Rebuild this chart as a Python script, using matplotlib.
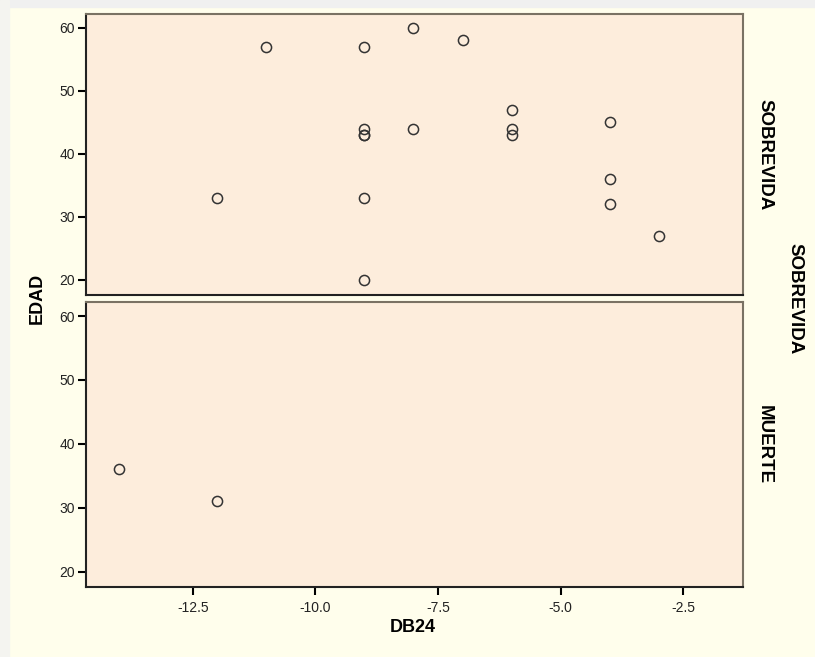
import matplotlib
matplotlib.use("Agg")
import matplotlib.pyplot as plt
from matplotlib.patches import Rectangle

plt.rcParams["font.family"] = ["Liberation Sans", "DejaVu Sans"]

# SOBREVIDA panel
sob_db24 = [-12, -11, -9, -9, -9, -9, -9, -9, -8, -8, -7, -6, -6, -6, -4, -4, -4, -3]
sob_edad = [33, 57, 57, 44, 43, 43, 33, 20, 60, 44, 58, 47, 44, 43, 45, 36, 32, 27]
# MUERTE panel
mue_db24 = [-14, -12]
mue_edad = [36, 31]

panel_labels = ["SOBREVIDA", "MUERTE"]
x_ticks = [-12.5, -10.0, -7.5, -5.0, -2.5]
y_ticks = [20, 30, 40, 50, 60]

bg = "#fffeec"
panel_bg = "#fdeddc"

fig = plt.figure(figsize=(8.15, 6.57), dpi=100, facecolor=bg)
# screenshot frame
fig.patches.append(Rectangle((0, 1 - 7 / 657), 1, 7 / 657, transform=fig.transFigure,
                             color="#f0f0f0", zorder=0))
fig.patches.append(Rectangle((0, 0), 9 / 815, 1, transform=fig.transFigure,
                             color="#f4f4f0", zorder=0))

ax_top = fig.add_axes([0.1055, 0.551, 0.8061, 0.4277])
ax_bot = fig.add_axes([0.1055, 0.1065, 0.8061, 0.4338])

for ax, xs, ys, lab in [(ax_top, sob_db24, sob_edad, panel_labels[0]),
                        (ax_bot, mue_db24, mue_edad, panel_labels[1])]:
    ax.set_facecolor(panel_bg)
    ax.plot(xs, ys, linestyle="none", marker="o", markersize=7.3,
            markerfacecolor="none", markeredgecolor="#333333", markeredgewidth=1.1)
    ax.set_xlim(-14.68, -1.28)
    ax.set_ylim(17.6, 62.2)
    ax.set_yticks(y_ticks)
    ax.set_yticklabels([str(t) for t in y_ticks])
    ax.set_xticks(x_ticks)
    ax.tick_params(axis="both", direction="out", length=6, width=1.5, color="black",
                   labelsize=10, labelcolor="#222222", pad=2)
    ax.tick_params(axis="x", pad=4)
    for side in ["left", "bottom"]:
        ax.spines[side].set_color("#222222")
        ax.spines[side].set_linewidth(1.5)
    for side in ["top", "right"]:
        ax.spines[side].set_color("#7a7264")
        ax.spines[side].set_linewidth(1.5)
    ax.text(1.02, 0.5, lab, transform=ax.transAxes, rotation=-90, ha="left",
            va="center", fontsize=13.5, fontweight="bold")

ax_top.tick_params(axis="x", bottom=False, labelbottom=False)
ax_bot.set_xticklabels([f"{t:.1f}" for t in x_ticks])

fig.text(0.046, 0.545, "EDAD", rotation=90, ha="center", va="center",
         fontsize=13, fontweight="bold")
fig.text(0.5067, 0.045, "DB24", ha="center", va="center",
         fontsize=13, fontweight="bold")
fig.text(0.975, 0.545, "SOBREVIDA", rotation=-90, ha="center", va="center",
         fontsize=13.5, fontweight="bold")

fig.savefig("out.png", dpi=100, facecolor=bg)
